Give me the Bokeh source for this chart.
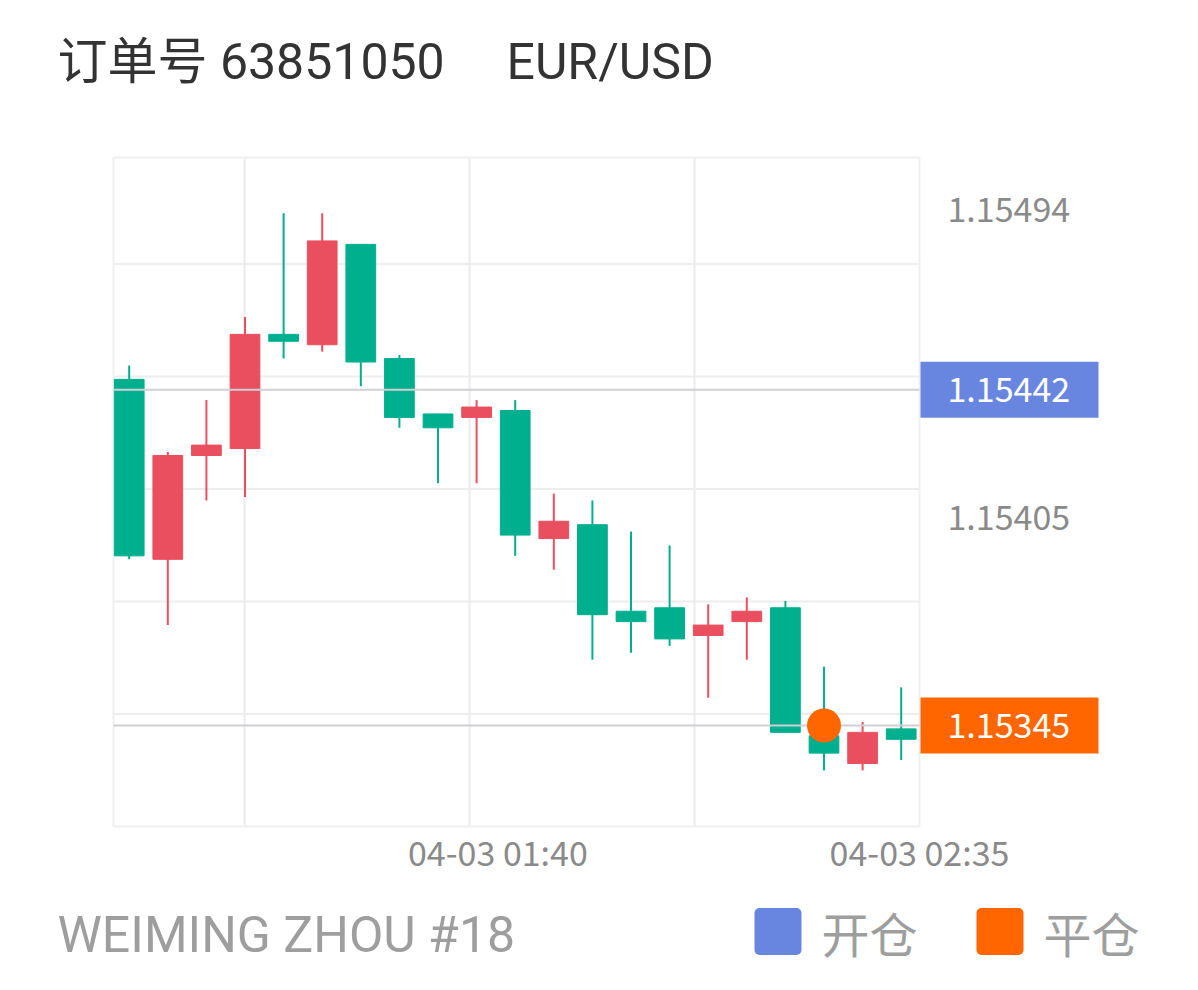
from bokeh.plotting import figure
from bokeh.models import Range1d, Label, ColumnDataSource
from bokeh.core.properties import value
from bokeh.embed import file_html
from bokeh.resources import INLINE

# ---------------- data ----------------
opens  = [1.15445, 1.15393, 1.15423, 1.15425, 1.15458, 1.15455, 1.15484, 1.15451,
          1.15435, 1.15434, 1.15436, 1.15399, 1.15403, 1.15378, 1.15379, 1.15371,
          1.15375, 1.15379, 1.15342, 1.15334, 1.15344]
highs  = [1.15449, 1.15424, 1.15439, 1.15463, 1.15493, 1.15493, 1.15484, 1.15452,
          1.15435, 1.15439, 1.15439, 1.15412, 1.15410, 1.15401, 1.15397, 1.15380,
          1.15382, 1.15381, 1.15362, 1.15346, 1.15356]
lows   = [1.15393, 1.15374, 1.15410, 1.15411, 1.15451, 1.15453, 1.15443, 1.15431,
          1.15415, 1.15415, 1.15394, 1.15390, 1.15364, 1.15366, 1.15368, 1.15353,
          1.15364, 1.15343, 1.15332, 1.15332, 1.15335]
closes = [1.15394, 1.15423, 1.15426, 1.15458, 1.15456, 1.15485, 1.15450, 1.15434,
          1.15431, 1.15437, 1.15400, 1.15404, 1.15377, 1.15375, 1.15370, 1.15374,
          1.15378, 1.15343, 1.15337, 1.15343, 1.15341]

open_price = 1.15442
close_price = 1.15345
close_candle = 18
price_labels = [1.15494, 1.15405]
time_labels = ["04-03 01:40", "04-03 02:35"]
time_minutes_before_end = [55, 0]
minutes_per_candle = 5
title_order = "订单号 63851050"
title_symbol = "EUR/USD"
footer_text = "WEIMING ZHOU #18"
legend_labels = ["开仓", "平仓"]

# ---------------- style / layout ----------------
UP = "#EA4F5F"
DOWN = "#00AF8E"
BLUE = "#6886DF"
ORANGE = "#FF6600"
AX_FONT = "Noto Sans CJK SC"
W, H = 1190, 980
CH_L, CH_R, CH_T, CH_B = 113, 919, 157, 826      # chart area in pixels

cx0, cx1 = -0.407, 20.474                         # chart x extent (candle index units)
cy0, cy1 = 1.153158, 1.155091                     # chart price extent
grid_step = 0.000325
ygrid_vals = [cy0 + k * grid_step for k in range(1, 6)]
xgrid_step = 5.829
xgrid_vals = [cx1 - k * xgrid_step for k in range(1, 4)]

sx = (CH_R - CH_L) / (cx1 - cx0)
sy = (CH_B - CH_T) / (cy1 - cy0)
xr = Range1d(cx0 - CH_L / sx, cx0 + (W - CH_L) / sx)
yr = Range1d(cy0 - (H - CH_B) / sy, cy1 + CH_T / sy)


def px2x(px):
    return xr.start + px / sx


def py2y(py):
    return yr.end - py / sy


idx = list(range(len(opens)))
colors = [UP if c > o else DOWN for o, c in zip(opens, closes)]
src = ColumnDataSource(dict(
    x=idx, high=highs, low=lows,
    top=[max(o, c) for o, c in zip(opens, closes)],
    bottom=[min(o, c) for o, c in zip(opens, closes)],
    color=colors,
))

p = figure(width=W, height=H, x_range=xr, y_range=yr,
           x_axis_location=None, y_axis_location=None,
           toolbar_location=None, output_backend="svg", min_border=0)
p.outline_line_color = None
p.background_fill_color = "white"
p.border_fill_color = "white"
p.grid.visible = False

# grid + chart border
p.segment(x0=cx0, x1=cx1, y0=ygrid_vals, y1=ygrid_vals, line_color="#ededed", line_width=2)
p.segment(x0=xgrid_vals, x1=xgrid_vals, y0=cy0, y1=cy1, line_color="#ebebeb", line_width=2)
p.quad(left=cx0, right=cx1, bottom=cy0, top=cy1, fill_color=None,
       line_color="#f0f0f0", line_width=2)

# candles
p.segment(x0="x", y0="low", x1="x", y1="high", source=src, line_color="color", line_width=2)
p.vbar(x="x", width=0.77, top="top", bottom="bottom", source=src,
       fill_color="color", line_color="color", line_width=1)

# open / close price lines
p.segment(x0=cx0, x1=cx1, y0=[open_price, close_price], y1=[open_price, close_price],
          line_color="#cfd0d4", line_width=2)

# close marker
p.scatter(x=[close_candle], y=[close_price], size=34, marker="circle",
          fill_color=ORANGE, line_color=None)

# price axis labels
p.text(x=cx1, y=price_labels, text=[f"{v:.5f}" for v in price_labels],
       x_offset=28, text_align="left", text_baseline="middle",
       text_font=value(AX_FONT), text_font_size="34px", text_color="#8a8a8a")

# price tags
tag_prices = [open_price, close_price]
p.rect(x=px2x(CH_R + 90), y=tag_prices, width=178, height=56,
       width_units="screen", height_units="screen",
       fill_color=[BLUE, ORANGE], line_color=None)
p.text(x=cx1, y=tag_prices, text=[f"{v:.5f}" for v in tag_prices],
       x_offset=28, text_align="left", text_baseline="middle",
       text_font=value(AX_FONT), text_font_size="34px", text_color="white")

# time labels
xticks = [cx1 - m / minutes_per_candle for m in time_minutes_before_end]
p.text(x=xticks, y=cy0, text=time_labels, y_offset=25, x_offset=[3, 0],
       text_align="center", text_baseline="middle",
       text_font=value(AX_FONT), text_font_size="34px", text_color="#8a8a8a")

# title and footer
p.add_layout(Label(x=57, y=H - 61, x_units="screen", y_units="screen", text=title_order,
                   text_font="Roboto, Noto Sans CJK SC", text_font_size="50px",
                   text_color="#333333", text_baseline="alphabetic"))
p.add_layout(Label(x=506, y=H - 61, x_units="screen", y_units="screen", text=title_symbol,
                   text_font="Roboto", text_font_size="50px",
                   text_color="#333333", text_baseline="alphabetic"))
p.add_layout(Label(x=57, y=H - 934, x_units="screen", y_units="screen", text=footer_text,
                   text_font="Roboto", text_font_size="50px",
                   text_color="#9e9e9e", text_baseline="alphabetic"))

# legend swatches + labels
sw_left = [754, 976]
sw_kwargs = dict(left=[px2x(v) for v in sw_left], right=[px2x(v + 47) for v in sw_left],
                 top=py2y(907.5), bottom=py2y(954.5), fill_color=[BLUE, ORANGE], line_color=None)
try:
    p.quad(border_radius=5, **sw_kwargs)
except Exception:
    p.quad(**sw_kwargs)
p.text(x=[px2x(v + 67) for v in sw_left], y=py2y(931), text=legend_labels,
       text_align="left", text_baseline="middle",
       text_font=value(AX_FONT), text_font_size="48px", text_color="#9e9e9e")

open("out.html", "w").write(file_html(p, INLINE))
